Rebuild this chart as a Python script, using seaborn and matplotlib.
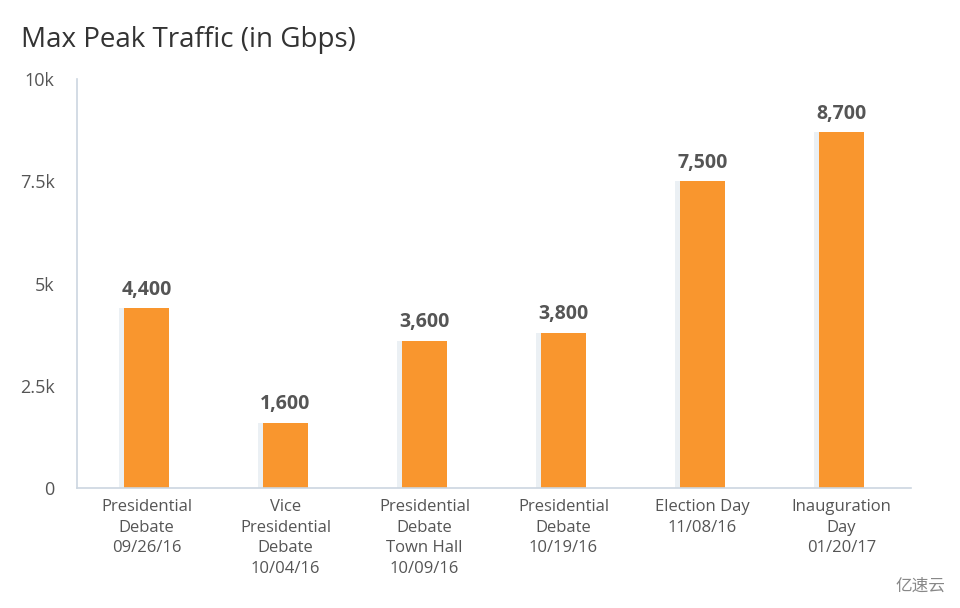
import matplotlib
matplotlib.use("Agg")
import matplotlib.pyplot as plt
import matplotlib.patheffects as pe
import seaborn as sns
import pandas as pd

categories = [
    "Presidential\nDebate\n09/26/16",
    "Vice\nPresidential\nDebate\n10/04/16",
    "Presidential\nDebate\nTown Hall\n10/09/16",
    "Presidential\nDebate\n10/19/16",
    "Election Day\n11/08/16",
    "Inauguration\nDay\n01/20/17",
]
values = [4400, 1600, 3600, 3800, 7500, 8700]
ytick_values = [0, 2500, 5000, 7500, 10000]
ytick_labels = ["0", "2.5k", "5k", "7.5k", "10k"]

sns.set_theme(style="white")
plt.rcParams["font.family"] = ["Open Sans", "DejaVu Sans"]

df = pd.DataFrame({"event": categories, "gbps": values})

fig = plt.figure(figsize=(9.6, 6.08), dpi=100)
ax = fig.add_axes([0.0802, 0.1974, 0.8688, 0.6726])

sns.barplot(data=df, x="event", y="gbps", color="#F9962E", width=0.32,
            saturation=1, ax=ax, edgecolor="none")

for p in ax.patches:
    p.set_path_effects([pe.SimplePatchShadow(offset=(-4, 0), shadow_rgbFace="#dfe6ee", alpha=0.6),
                        pe.Normal()])

for i, v in enumerate(values):
    ax.annotate(f"{v:,}", (i, v), xytext=(0, 6), textcoords="offset points",
                ha="center", va="bottom", fontsize=14, fontweight="bold", color="#555555")

ax.set_ylim(0, 10000)
ax.set_xlim(-0.5, len(categories) - 0.5)
ax.set_yticks(ytick_values)
ax.set_yticklabels(ytick_labels)
ax.set_xlabel("")
ax.set_ylabel("")
ax.tick_params(axis="y", length=0, pad=16, labelsize=13, labelcolor="#555555")
ax.tick_params(axis="x", length=0, pad=8, labelsize=12, labelcolor="#555555")
for lbl in ax.get_xticklabels():
    lbl.set_linespacing(1.38)

for side in ["top", "right"]:
    ax.spines[side].set_visible(False)
for side in ["left", "bottom"]:
    ax.spines[side].set_color("#ccd6e0")
    ax.spines[side].set_linewidth(1.2)

fig.text(0.022, 0.935, "Max Peak Traffic (in Gbps)", fontsize=20, color="#333333",
         ha="left", va="center")

fig.text(0.985, 0.022, "亿速云", fontsize=12, color="#888888", ha="right", va="bottom",
         family=["Noto Sans CJK SC", "DejaVu Sans"])

fig.savefig("out.png", dpi=100)
